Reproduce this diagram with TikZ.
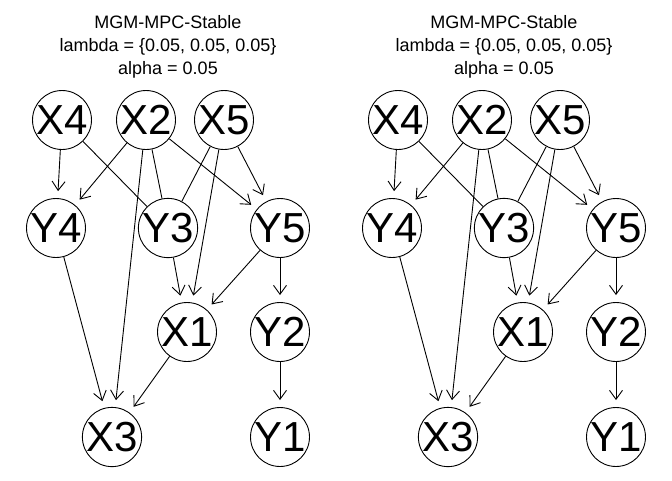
\documentclass[tikz,border=0pt]{standalone}
\usepackage{fontspec}
\setmainfont{Liberation Sans}
\usetikzlibrary{arrows.meta}
\tikzset{
  var/.style={draw,circle,minimum size=55pt,inner sep=0pt,font=\fontsize{42}{42}\selectfont},
  dir/.style={-{Straight Barb[length=9pt,width=13pt]},shorten >=7pt},
  heading/.style={align=center,font=\fontsize{18}{23}\selectfont},
}
\begin{document}
\begin{tikzpicture}[x=1pt,y=-1pt,line width=0.9pt]
\useasboundingbox (0,0) rectangle (672,480);
\foreach \p/\dx in {L/0,R/336}{
  \begin{scope}[xshift=\dx pt]
    \node[heading] (title\p) at (168,47) {MGM-MPC-Stable\\lambda = \{0.05, 0.05, 0.05\}\\alpha = 0.05};
    \node[var] (X4\p) at (62,120) {X4};
    \node[var] (X2\p) at (146,120) {X2};
    \node[var] (X5\p) at (224,120) {X5};
    \node[var] (Y4\p) at (56,228) {Y4};
    \node[var] (Y3\p) at (168,228) {Y3};
    \node[var] (Y5\p) at (280,228) {Y5};
    \node[var] (X1\p) at (187,332) {X1};
    \node[var] (Y2\p) at (280,332) {Y2};
    \node[var] (X3\p) at (112,437) {X3};
    \node[var] (Y1\p) at (280,437) {Y1};
    % undirected edges
    \draw (X4\p) -- (Y3\p);
    \draw (X2\p) -- (Y3\p);
    \draw (X5\p) -- (Y3\p);
    % directed edges
    \draw[dir] (X4\p) -- (Y4\p);
    \draw[dir] (X2\p) -- (Y4\p);
    \draw[dir] (X2\p) -- (Y5\p);
    \draw[dir] (X2\p) -- (X3\p);
    \draw[dir] (X5\p) -- (X1\p);
    \draw[dir] (X5\p) -- (Y5\p);
    \draw[dir] (Y4\p) -- (X3\p);
    \draw[dir] (Y3\p) -- (X1\p);
    \draw[dir] (Y5\p) -- (X1\p);
    \draw[dir] (Y5\p) -- (Y2\p);
    \draw[dir] (X1\p) -- (X3\p);
    \draw[dir] (Y2\p) -- (Y1\p);
  \end{scope}
}
\end{tikzpicture}
\end{document}
